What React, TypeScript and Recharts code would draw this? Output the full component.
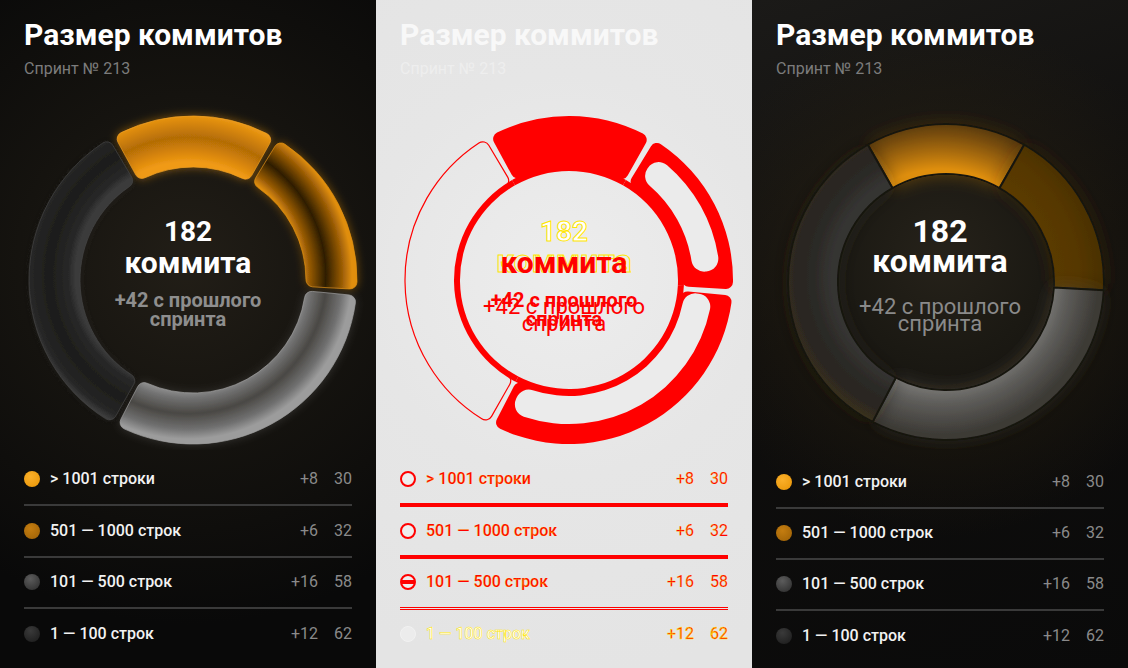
import { PieChart, Pie, Cell } from 'recharts';

const labels = ['> 1001 строки', '501 — 1000 строк', '101 — 500 строк', '1 — 100 строк'];
const counts = [30, 32, 58, 62];
const deltas = [8, 6, 16, 12];

const total = counts.reduce((a, b) => a + b, 0);
const gain = deltas.reduce((a, b) => a + b, 0);
const rows = labels.map((name, i) => ({ name, value: counts[i], delta: deltas[i] }));
// первый сегмент центрируем сверху
const topStart = 90 + (counts[0] / total) * 180;

const W = 376;
const H = 668;
const FONT = 'Roboto, "Noto Sans", sans-serif';
const RED = '#ff0000';

const dotBg = [
  'radial-gradient(circle at 40% 35%, #fbb02a, #e89405)',
  'radial-gradient(circle at 40% 35%, #c47d10, #9c6006)',
  'radial-gradient(circle at 40% 30%, #5c5c5c, #2a2a2a)',
  'radial-gradient(circle at 40% 30%, #3a3a3a, #1a1a1a)',
];

const targetStops = [
  [[0.689, '#f09a16'], [0.75, '#d98608'], [0.84, '#b36c06'], [0.94, '#dc8a0b'], [1, '#f3a01c']],
  [[0.689, '#e08e0c'], [0.74, '#9a5c06'], [0.84, '#2e1d06'], [0.94, '#9a5c06'], [1, '#e08e0c']],
  [[0.689, '#9a9a9a'], [0.75, '#727272'], [0.845, '#4a4844'], [0.94, '#707070'], [1, '#9c9c9c']],
  [[0.689, '#3a3a3a'], [0.73, '#282828'], [0.845, '#1d1d1b'], [0.96, '#262626'], [1, '#3c3c3c']],
];
const targetEdge = ['#f2a124', '#e2920f', '#a0a0a0', '#444444'];
const targetGlow = ['url(#tglow)', 'url(#tglow)', 'url(#tglowsoft)', 'url(#tglowsoft)'];

const renderStops = [
  [[0.684, '#de8e0c'], [0.78, '#b0700a'], [0.9, '#7a4e08'], [1, '#503508']],
  [[0.684, '#5b3b03'], [0.85, '#573800'], [1, '#4c3204']],
  [[0.684, '#7c7b78'], [0.8, '#5e5d5a'], [0.92, '#4a4844'], [1, '#3c3a35']],
  [[0.684, '#363533'], [0.8, '#2c2a27'], [0.92, '#2a2620'], [1, '#38301f']],
];

function Glow({ id, blur, alpha }: { id: string; blur: number; alpha: number }) {
  return (
    <filter id={id} x="-40%" y="-40%" width="180%" height="180%">
      <feGaussianBlur in="SourceGraphic" stdDeviation={blur} result="b" />
      <feComponentTransfer in="b" result="b2">
        <feFuncA type="linear" slope={alpha} />
      </feComponentTransfer>
      <feMerge>
        <feMergeNode in="b2" />
        <feMergeNode in="SourceGraphic" />
      </feMerge>
    </filter>
  );
}

function Gradients({ prefix, stops, cx, cy, r }: any) {
  return (
    <>
      {stops.map((s: any[], i: number) => (
        <radialGradient key={i} id={`${prefix}${i}`} gradientUnits="userSpaceOnUse" cx={cx} cy={cy} r={r}>
          {s.map(([o, c]: any, j: number) => (
            <stop key={j} offset={o} stopColor={c} />
          ))}
        </radialGradient>
      ))}
    </>
  );
}

function Header({ title, sub }: { title: string; sub: string }) {
  return (
    <>
      <div style={{ position: 'absolute', left: 24, top: 20, fontSize: 30, lineHeight: '30px', fontWeight: 700, color: title }}>
        Размер коммитов
      </div>
      <div style={{ position: 'absolute', left: 24, top: 60.5, fontSize: 16, lineHeight: '16px', color: sub }}>
        Спринт № 213
      </div>
    </>
  );
}

function Line({ top, size, weight, color, text, stroke }: any) {
  return (
    <div
      style={{
        position: 'absolute',
        left: 0,
        width: W,
        top,
        textAlign: 'center',
        fontSize: size,
        lineHeight: `${size}px`,
        fontWeight: weight,
        color,
        WebkitTextStroke: stroke,
      }}
    >
      {text}
    </div>
  );
}

function Legend({ first, step, labelColor, numColor, lineColor, dots, lineW, strokes }: any) {
  return (
    <>
      {rows.map((r, i) => {
        const cy = first + i * step;
        const txt = { position: 'absolute' as const, top: cy - 8, fontSize: 16, lineHeight: '16px', WebkitTextStroke: strokes?.[i] };
        return (
          <div key={r.name}>
            <div
              style={{
                position: 'absolute',
                left: 24,
                top: cy - 8,
                width: 16,
                height: 16,
                borderRadius: 8,
                boxSizing: 'border-box',
                ...dots[i],
              }}
            />
            <div style={{ ...txt, left: 50, fontWeight: 500, color: labelColor[i] }}>{r.name}</div>
            <div style={{ ...txt, right: W - 318, color: numColor[i] }}>+{r.delta}</div>
            <div style={{ ...txt, right: W - 352, color: numColor[i] }}>{r.value}</div>
            {i < rows.length - 1 && (
              <div style={{ position: 'absolute', left: 24, width: 328, top: cy + step / 2 - lineW[i] / 2, height: lineW[i], background: lineColor[i] }} />
            )}
          </div>
        );
      })}
    </>
  );
}

function TargetPanel() {
  const pad = 2.2;
  return (
    <div
      style={{
        position: 'relative',
        width: W,
        height: H,
        overflow: 'hidden',
        background: 'radial-gradient(circle at 188px 265px, #221e17 0px, #15130f 170px, #090909 360px)',
      }}
    >
      <Header title="#ffffff" sub="#7c7c7c" />
      <div style={{ position: 'absolute', left: 0, top: 0 }}>
        <PieChart width={W} height={450}>
          <defs>
            <Gradients prefix="tg" stops={targetStops} cx={188} cy={275} r={164} />
            <Glow id="tglow" blur={5} alpha={0.5} />
            <Glow id="tglowsoft" blur={5} alpha={0.25} />
          </defs>
          <Pie
            data={rows}
            dataKey="value"
            cx={188}
            cy={275}
            innerRadius={113}
            outerRadius={164}
            startAngle={topStart - pad / 2}
            endAngle={topStart - pad / 2 - 360}
            paddingAngle={pad}
            cornerRadius={7}
            isAnimationActive={false}
          >
            {rows.map((r, i) => (
              <Cell key={r.name} fill={`url(#tg${i})`} stroke={targetEdge[i]} strokeWidth={1} strokeOpacity={0.7} filter={targetGlow[i]} />
            ))}
          </Pie>
        </PieChart>
      </div>
      <Line top={218} size={28} weight={700} color="#ffffff" text={String(total)} />
      <Line top={247.7} size={30} weight={700} color="#ffffff" text="коммита" />
      <Line top={289.5} size={20} weight={700} color="#8e8e8e" text={`+${gain} с прошлого`} />
      <Line top={309.4} size={20} weight={700} color="#8e8e8e" text="спринта" />
      <Legend
        first={479}
        step={51.7}
        labelColor={['#f2f2f2', '#f2f2f2', '#f2f2f2', '#f2f2f2']}
        numColor={['#8a8a8a', '#8a8a8a', '#8a8a8a', '#8a8a8a']}
        lineColor={['#3a3a3a', '#3a3a3a', '#3a3a3a']}
        lineW={[2, 2, 2]}
        dots={dotBg.map((b) => ({ background: b }))}
      />
    </div>
  );
}

function DiffPanel() {
  const pad = 2.2;
  const hollow = '#ebebeb';
  return (
    <div
      style={{
        position: 'relative',
        width: W,
        height: H,
        overflow: 'hidden',
        background: 'radial-gradient(circle at 188px 275px, #ededed 0px, #e6e6e6 200px, #e4e4e4 400px)',
      }}
    >
      <Header title="#f8f8f8" sub="#eeeeee" />
      <div style={{ position: 'absolute', left: 0, top: 0 }}>
        <PieChart width={W} height={450}>
          <Pie
            data={rows}
            dataKey="value"
            cx={188}
            cy={275}
            innerRadius={109}
            outerRadius={115}
            startAngle={topStart}
            endAngle={topStart - 360}
            stroke="none"
            fill={RED}
            isAnimationActive={false}
          />
          <Pie
            data={rows}
            dataKey="value"
            cx={188}
            cy={275}
            innerRadius={113}
            outerRadius={164}
            startAngle={topStart - pad / 2}
            endAngle={topStart - pad / 2 - 360}
            paddingAngle={pad}
            cornerRadius={7}
            isAnimationActive={false}
          >
            {rows.map((r, i) => (
              <Cell key={r.name} fill={i < 3 ? RED : 'none'} stroke={RED} strokeWidth={i < 3 ? 0 : 1.2} />
            ))}
          </Pie>
          <Pie
            data={rows}
            dataKey="value"
            cx={188}
            cy={275}
            innerRadius={124}
            outerRadius={151}
            startAngle={120}
            endAngle={-240}
            paddingAngle={17}
            cornerRadius={13}
            stroke="none"
            isAnimationActive={false}
          >
            {rows.map((r, i) => (
              <Cell key={r.name} fill={i === 1 ? hollow : 'none'} />
            ))}
          </Pie>
          <Pie
            data={rows}
            dataKey="value"
            cx={188}
            cy={275}
            innerRadius={116}
            outerRadius={144}
            startAngle={120}
            endAngle={-240}
            paddingAngle={5.3}
            cornerRadius={13}
            stroke="none"
            isAnimationActive={false}
          >
            {rows.map((r, i) => (
              <Cell key={r.name} fill={i === 2 ? hollow : 'none'} />
            ))}
          </Pie>
        </PieChart>
      </div>
      <Line top={218} size={28} weight={700} color="#ffffff" stroke="1px #ffe600" text={String(total)} />
      <Line top={244.5} size={32} weight={700} color="transparent" stroke="1px #ffe600" text="коммита" />
      <Line top={247.7} size={30} weight={700} color={RED} text="коммита" />
      <Line top={289.5} size={20} weight={700} color={RED} text={`+${gain} с прошлого`} />
      <Line top={295.5} size={22} weight={400} color={RED} text={`+${gain} с прошлого`} />
      <Line top={309.4} size={20} weight={700} color={RED} text="спринта" />
      <Line top={313.3} size={22} weight={400} color={RED} text="спринта" />
      <Legend
        first={479}
        step={51.7}
        labelColor={[RED, RED, RED, '#ffffff']}
        numColor={[RED, RED, RED, RED]}
        strokes={['0.2px #ffe600', '0.2px #ffe600', '0.2px #ffe600', '0.5px #ffe600']}
        lineColor={[RED, RED, `linear-gradient(${RED} 0 1px, #e8e8e8 1px 2px, ${RED} 2px 3px)`]}
        lineW={[4, 4, 3]}
        dots={[
          { background: '#eeeeee', border: `2px solid ${RED}` },
          { background: '#eeeeee', border: `2px solid ${RED}` },
          { background: `linear-gradient(#eee 0 35%, ${RED} 35% 65%, #eee 65%)`, border: `2px solid ${RED}` },
          { background: '#ececec', border: '1px solid #f2f2f2' },
        ]}
      />
    </div>
  );
}

function RenderPanel() {
  return (
    <div
      style={{
        position: 'relative',
        width: W,
        height: H,
        overflow: 'hidden',
        background:
          'radial-gradient(circle at 189px 277px, rgba(70,52,18,0.5) 0px, rgba(40,32,16,0.3) 175px, rgba(0,0,0,0) 260px), linear-gradient(160deg, #1b1a18 0%, #0f0e0d 45%, #0a0a0a 100%)',
      }}
    >
      <Header title="#ffffff" sub="#7c7c7c" />
      <div
        style={{
          position: 'absolute',
          left: 189 - 108,
          top: 277 - 108,
          width: 216,
          height: 216,
          borderRadius: 108,
          background: 'radial-gradient(circle at 50% 40%, #26221a 0%, #1b1913 60%, #15130f 100%)',
        }}
      />
      <div style={{ position: 'absolute', left: 0, top: 0 }}>
        <PieChart width={W} height={450}>
          <defs>
            <Gradients prefix="rg" stops={renderStops} cx={189} cy={277} r={158} />
            <Glow id="rglow" blur={9} alpha={0.4} />
          </defs>
          <Pie
            data={rows}
            dataKey="value"
            cx={189}
            cy={277}
            innerRadius={108}
            outerRadius={158}
            startAngle={topStart}
            endAngle={topStart - 360}
            isAnimationActive={false}
          >
            {rows.map((r, i) => (
              <Cell key={r.name} fill={`url(#rg${i})`} stroke="#17150f" strokeWidth={2} filter="url(#rglow)" />
            ))}
          </Pie>
        </PieChart>
      </div>
      <Line top={215} size={32} weight={700} color="#ffffff" text={String(total)} />
      <Line top={244.5} size={32} weight={700} color="#ffffff" text="коммита" />
      <Line top={295.5} size={22} weight={400} color="#8a8a8a" text={`+${gain} с прошлого`} />
      <Line top={313.3} size={22} weight={400} color="#8a8a8a" text="спринта" />
      <Legend
        first={482}
        step={51.2}
        labelColor={['#f2f2f2', '#f2f2f2', '#f2f2f2', '#f2f2f2']}
        numColor={['#8a8a8a', '#8a8a8a', '#8a8a8a', '#8a8a8a']}
        lineColor={['#3a3a3a', '#3a3a3a', '#3a3a3a']}
        lineW={[2, 2, 2]}
        dots={dotBg.map((b) => ({ background: b }))}
      />
    </div>
  );
}

export default function App() {
  return (
    <div style={{ display: 'flex', width: 1128, height: H, fontFamily: FONT }}>
      <style>{'body{margin:0;background:#000}'}</style>
      <TargetPanel />
      <DiffPanel />
      <RenderPanel />
    </div>
  );
}
